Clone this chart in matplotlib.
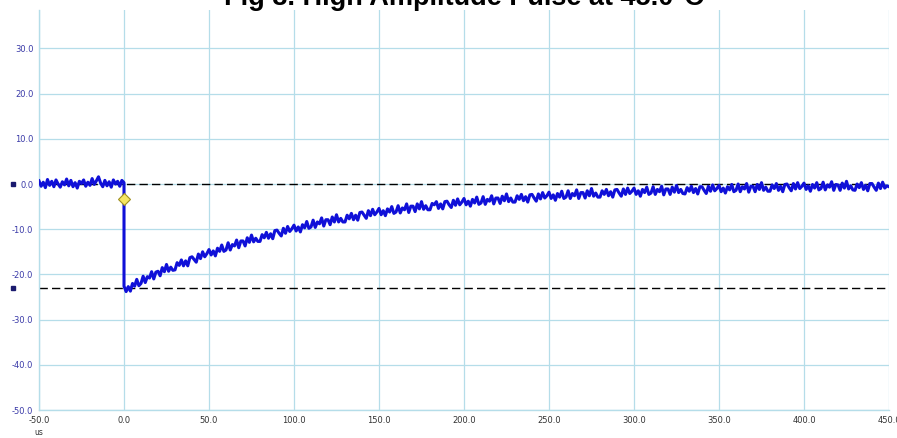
import numpy as np
import matplotlib
matplotlib.use("Agg")
import matplotlib.pyplot as plt

title = "Fig 8. High Amplitude Pulse at 45.0°C"
step_us = 1.25

# pre-trigger samples, t = -50 .. 0 us
pre_v = [0.7, -0.5, 0.4, -0.8, 1.0, -0.3, 0.6, -0.6, 0.9, 0.0, -0.7, 0.5, -0.2,
         1.1, -0.4, 0.8, -0.6, 0.3, -0.9, 0.6, 0.1, 0.9, -0.5, 0.4, -0.3, 1.2,
         -0.1, 0.7, 1.6, 0.2, -0.6, 0.8, -0.4, 0.5, -0.7, 0.9, 0.0, 0.6, -0.5,
         0.8, 0.3]

# post-trigger samples, t = 0 .. 450 us
post_v = [
    -22.6, -23.8, -22.7, -23.7, -22.0, -22.6, -21.1, -22.5,
    -22.0, -20.4, -21.8, -20.5, -20.8, -19.4, -21.0, -19.5,
    -19.3, -20.3, -18.5, -19.4, -17.8, -19.3, -18.4, -19.1,
    -19.0, -17.4, -18.0, -16.8, -18.1, -17.0, -18.1, -16.3,
    -16.1, -16.7, -17.3, -15.5, -16.5, -15.0, -16.1, -15.4,
    -14.5, -15.7, -14.8, -15.9, -14.2, -14.9, -13.5, -14.9,
    -14.6, -13.0, -14.6, -13.4, -13.7, -12.4, -14.1, -12.6,
    -12.6, -13.7, -11.9, -12.9, -11.3, -12.8, -12.0, -12.7,
    -12.7, -11.2, -11.9, -10.7, -12.0, -11.0, -12.1, -10.3,
    -10.2, -10.9, -11.5, -9.8, -10.9, -9.4, -10.5, -9.9,
    -9.1, -10.4, -9.5, -10.6, -9.0, -9.7, -8.3, -9.8,
    -9.5, -8.0, -9.6, -8.4, -8.8, -7.5, -9.3, -7.9,
    -7.9, -9.0, -7.3, -8.4, -6.8, -8.4, -7.6, -8.4,
    -8.4, -6.9, -7.7, -6.5, -7.9, -6.9, -8.0, -6.3,
    -6.2, -6.9, -7.6, -5.9, -7.0, -5.6, -6.8, -6.2,
    -5.4, -6.8, -5.9, -7.0, -5.5, -6.2, -5.0, -6.5,
    -6.2, -4.8, -6.4, -5.3, -5.7, -4.4, -6.3, -4.9,
    -4.9, -6.1, -4.4, -5.5, -3.9, -5.6, -4.8, -5.7,
    -5.7, -4.3, -4.6, -3.9, -5.4, -4.4, -5.5, -3.9,
    -3.8, -4.6, -5.2, -3.6, -4.7, -3.3, -4.6, -4.0,
    -3.2, -4.6, -3.8, -4.9, -3.4, -4.2, -2.9, -4.5,
    -4.2, -2.8, -4.5, -3.4, -3.8, -2.6, -4.4, -3.1,
    -3.1, -4.3, -2.7, -3.7, -2.2, -3.9, -3.1, -4.0,
    -4.0, -2.6, -3.4, -2.3, -3.7, -2.8, -4.0, -2.4,
    -2.3, -3.1, -3.8, -2.2, -3.3, -1.9, -3.1, -2.6,
    -1.8, -3.2, -2.4, -3.6, -2.1, -2.9, -1.6, -3.2,
    -2.9, -1.5, -3.2, -2.1, -2.6, -1.3, -3.2, -1.9,
    -1.9, -3.1, -1.5, -2.6, -1.0, -2.7, -2.0, -2.9,
    -2.9, -1.5, -2.3, -1.2, -2.6, -1.7, -2.9, -1.3,
    -1.2, -2.0, -2.7, -1.1, -2.3, -0.9, -2.1, -1.6,
    -0.9, -2.3, -1.5, -2.7, -1.2, -1.9, -0.7, -2.3,
    -2.0, -0.6, -2.3, -1.2, -1.7, -0.5, -2.4, -1.1,
    -1.1, -2.3, -0.7, -1.8, -0.3, -1.9, -1.2, -2.1,
    -2.2, -0.8, -1.6, -0.5, -1.9, -1.0, -2.2, -0.6,
    -0.6, -1.4, -2.1, -0.5, -1.6, -0.2, -1.5, -1.0,
    -0.3, -1.7, -0.9, -2.0, -0.6, -1.3, -0.1, -1.7,
    -1.4, 0.0, -1.7, -0.6, -1.1, 0.1, -1.8, -0.5,
    -0.5, -1.7, -0.1, -1.2, 0.3, -1.4, -0.7, -1.6,
    -1.6, -0.2, -1.0, 0.1, -1.4, -0.5, -1.7, -0.1,
    0.0, -0.8, -1.5, 0.1, -1.1, 0.3, -1.0, -0.5,
    0.2, -1.2, -0.4, -1.6, -0.1, -0.9, 0.3, -1.3,
    -1.0, 0.4, -1.3, -0.2, -0.7, 0.5, -1.4, -0.1,
    -0.2, -1.4, 0.2, -0.9, 0.6, -1.1, -0.4, -1.3,
    -1.4, 0.0, -0.8, 0.3, -1.2, -0.3, -1.5, 0.1,
    0.1, -0.7, -1.4, 0.2, -1.0, 0.4, -0.9, -0.4,
    -0.6,
]

cursor_levels = [0.0, -23.0]
marker_point = (0.0, -3.4)

x_ticks = [-50, 0, 50, 100, 150, 200, 250, 300, 350, 400, 450]
y_ticks = [-50, -40, -30, -20, -10, 0, 10, 20, 30]

pre_t = -50 + np.arange(len(pre_v)) * step_us
post_t = np.arange(len(post_v)) * step_us

fig = plt.figure(figsize=(8.97, 4.38), dpi=100)
ax = fig.add_axes([39 / 897, 28 / 438, 850 / 897, 400 / 438])

grid_c = "#b5dde9"
ax.set_xlim(-50, 450)
ax.set_ylim(-50, 38.5)
ax.set_xticks(x_ticks)
ax.set_yticks(y_ticks)
ax.set_xticklabels([f"{v:.1f}" for v in x_ticks], fontsize=6, color="#333333")
ax.set_yticklabels([f"{v:.1f}" for v in y_ticks], fontsize=6, color="#3a3aa8")
ax.tick_params(length=0, pad=4)
ax.grid(True, color=grid_c, linewidth=0.9)
ax.set_axisbelow(True)
for s in ["top", "right"]:
    ax.spines[s].set_visible(False)
for s in ["left", "bottom"]:
    ax.spines[s].set_color(grid_c)
    ax.spines[s].set_linewidth(1.0)

for lvl in cursor_levels:
    ax.axhline(lvl, color="black", linestyle=(0, (6, 3)), linewidth=1.0, zorder=2)

t = np.concatenate([pre_t, post_t])
v = np.concatenate([pre_v, post_v])
ax.plot(t, v, color="#1010d8", linewidth=2.2, zorder=3)

ax.plot([marker_point[0]], [marker_point[1]], marker="D", markersize=6,
        markerfacecolor="#f5e663", markeredgecolor="#a09020", markeredgewidth=0.8,
        zorder=4)

for lvl in cursor_levels:
    ax.plot([-65.3], [lvl], marker="s", markersize=3.5, color="#1a1a6e",
            clip_on=False, zorder=5)

ax.text(-50, -55.0, "us", fontsize=5.5, color="#333333", ha="center", va="center",
        clip_on=False)

fig.text(464 / 897, 1 - 5 / 438, title, fontsize=19.5, fontweight="bold",
         family="Liberation Sans", ha="center", va="baseline")

fig.savefig("out.png", dpi=100)
